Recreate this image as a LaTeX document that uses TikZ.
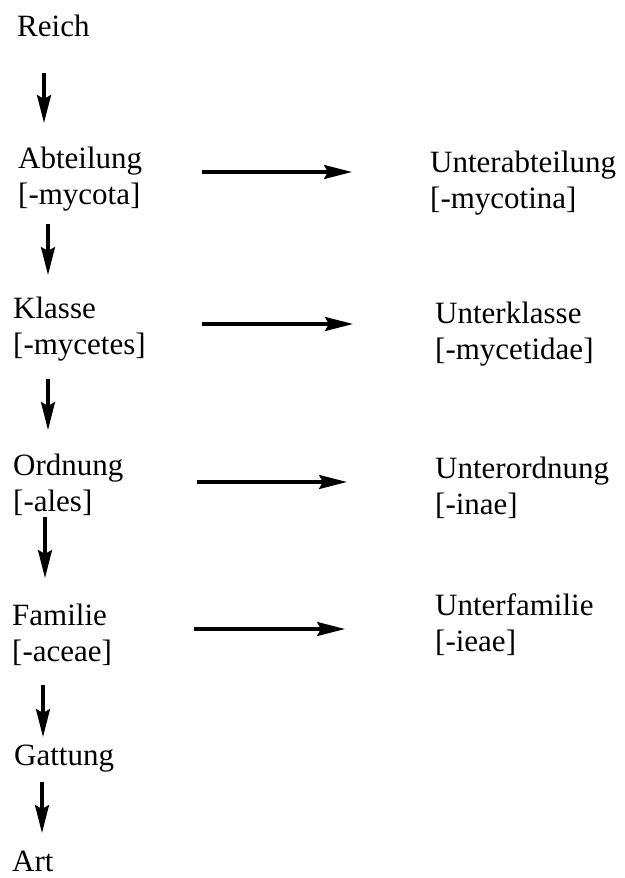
\documentclass[tikz,border=0pt]{standalone}
\usepackage{fontspec}
\setmainfont{Liberation Serif}
\usetikzlibrary{arrows.meta}

\begin{document}
\begin{tikzpicture}[x=1pt, y=-1pt,
    rank/.style={anchor=north west, inner sep=0pt, align=left, font=\fontsize{31}{36}\selectfont},
    down/.style={line width=3.2pt, -{Stealth[length=28pt, width=14pt, inset=4pt]}},
    over/.style={line width=3.2pt, -{Stealth[length=28pt, width=14pt, inset=4pt]}}]
    \useasboundingbox (0,0) rectangle (624,878);

    \node[rank] (reich) at (17,15) {Reich};
    \node[rank] (abt) at (18,147) {Abteilung\\{}[-mycota]};
    \node[rank] (kl) at (13,297) {Klasse\\{}[-mycetes]};
    \node[rank] (ord) at (13,454) {Ordnung\\{}[-ales]};
    \node[rank] (fam) at (12,604) {Familie\\{}[-aceae]};
    \node[rank] (gatt) at (14,745) {Gattung};
    \node[rank] (art) at (12,851) {Art};

    \node[rank] (uabt) at (430,151) {Unterabteilung\\{}[-mycotina]};
    \node[rank] (ukl) at (435,302) {Unterklasse\\{}[-mycetidae]};
    \node[rank] (uord) at (435,457) {Unterordnung\\{}[-inae]};
    \node[rank] (ufam) at (435,593) {Unterfamilie\\{}[-ieae]};

    \draw[down] ([xshift=27pt, yshift=-36pt]reich.south west) -- ([xshift=26pt, yshift=24pt]abt.north west);
    \draw[down] ([xshift=30pt, yshift=-12pt]abt.south west) -- ([xshift=35pt, yshift=22pt]kl.north west);
    \draw[down] ([xshift=35pt, yshift=-17pt]kl.south west) -- ([xshift=35pt, yshift=24pt]ord.north west);
    \draw[down] ([xshift=32pt, yshift=-1pt]ord.south west) -- ([xshift=33pt, yshift=26pt]fam.north west);
    \draw[down] ([xshift=31pt, yshift=-19pt]fam.south west) -- ([xshift=29pt, yshift=8pt]gatt.north west);
    \draw[down] ([xshift=28pt, yshift=-9pt]gatt.south west) -- ([xshift=30pt, yshift=18pt]art.north west);

    \draw[over] ([xshift=60pt, yshift=-25pt]abt.north east) -- ([xshift=-78pt, yshift=-21pt]uabt.north west);
    \draw[over] ([xshift=56pt, yshift=-27pt]kl.north east) -- ([xshift=-82pt, yshift=-22pt]ukl.north west);
    \draw[over] ([xshift=73pt, yshift=-28pt]ord.north east) -- ([xshift=-88pt, yshift=-25pt]uord.north west);
    \draw[over] ([xshift=82pt, yshift=-25pt]fam.north east) -- ([xshift=-90pt, yshift=-36pt]ufam.north west);
\end{tikzpicture}
\end{document}
